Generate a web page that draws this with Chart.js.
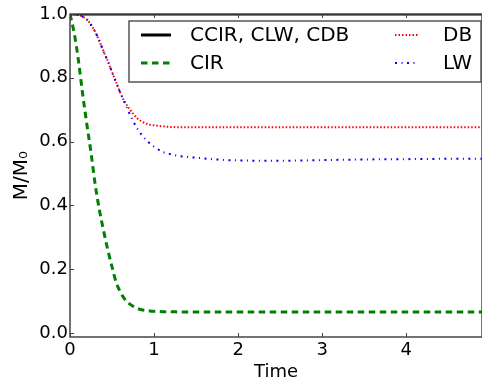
<!DOCTYPE html>
<html lang="en">
<head>
    <meta charset="UTF-8">
    <title>M/M0 over time</title>
    <script src="https://cdn.jsdelivr.net/npm/chart.js"></script>
    <style>
        body { margin: 0; background: #fff; }
        #wrap { width: 482px; height: 387px; }
    </style>
</head>
<body>
    <div id="wrap"><canvas id="mChart"></canvas></div>

    <script>
        // values
        let times = [0, 0.05, 0.1, 0.15, 0.2, 0.25, 0.3, 0.35, 0.4, 0.45, 0.5, 0.55, 0.6, 0.65, 0.7, 0.75, 0.8, 0.85, 0.9, 0.95, 1.0, 1.1, 1.2, 1.3, 1.4, 1.6, 1.8, 2.0, 2.5, 3.0, 3.5, 4.0, 4.5, 4.9];
        let ccir = [1, 1, 1, 1, 1, 1, 1, 1, 1, 1, 1, 1, 1, 1, 1, 1, 1, 1, 1, 1, 1, 1, 1, 1, 1, 1, 1, 1, 1, 1, 1, 1, 1, 1];
        let cir = [1.0, 0.94, 0.855, 0.75, 0.655, 0.565, 0.465, 0.385, 0.32, 0.26, 0.207, 0.158, 0.128, 0.106, 0.093, 0.084, 0.077, 0.073, 0.071, 0.069, 0.068, 0.067, 0.067, 0.066, 0.066, 0.066, 0.066, 0.066, 0.066, 0.066, 0.066, 0.066, 0.066, 0.066];
        let db = [1.0, 0.999, 0.997, 0.992, 0.983, 0.966, 0.944, 0.915, 0.882, 0.852, 0.818, 0.785, 0.752, 0.725, 0.705, 0.688, 0.673, 0.664, 0.657, 0.653, 0.651, 0.648, 0.646, 0.645, 0.645, 0.645, 0.645, 0.645, 0.645, 0.645, 0.645, 0.645, 0.645, 0.645];
        let lw = [1.0, 0.999, 0.997, 0.992, 0.983, 0.966, 0.944, 0.915, 0.882, 0.852, 0.818, 0.785, 0.752, 0.722, 0.692, 0.665, 0.641, 0.622, 0.606, 0.594, 0.584, 0.568, 0.56, 0.555, 0.552, 0.547, 0.543, 0.541, 0.540, 0.542, 0.544, 0.545, 0.546, 0.546];
        let xTicks = [0, 1, 2, 3, 4];
        let yTicks = [0, 0.2, 0.4, 0.6, 0.8, 1.0];

        function pts(vals) {
            return times.map((t, i) => ({ x: t, y: vals[i] }));
        }

        const font = 'DejaVu Sans';

        // matplotlib-like frame with inward ticks
        const framePlugin = {
            id: 'frame',
            afterDatasetsDraw(chart) {
                let ctx = chart.ctx;
                let a = chart.chartArea;
                let xs = chart.scales.x, ys = chart.scales.y;
                ctx.save();
                ctx.strokeStyle = '#444';
                ctx.lineWidth = 1.5;
                ctx.strokeRect(a.left, a.top, a.right - a.left, a.bottom - a.top);
                ctx.lineWidth = 1;
                ctx.beginPath();
                xTicks.forEach(v => {
                    let px = Math.round(xs.getPixelForValue(v)) + 0.5;
                    ctx.moveTo(px, a.bottom); ctx.lineTo(px, a.bottom - 4);
                    ctx.moveTo(px, a.top); ctx.lineTo(px, a.top + 4);
                });
                yTicks.forEach(v => {
                    let py = Math.round(ys.getPixelForValue(v)) + 0.5;
                    ctx.moveTo(a.left, py); ctx.lineTo(a.left + 4, py);
                });
                ctx.stroke();
                ctx.restore();
            }
        };

        // two-column legend box in the upper right
        const legendPlugin = {
            id: 'boxLegend',
            afterDraw(chart) {
                let ctx = chart.ctx;
                let a = chart.chartArea;
                let bx = a.left + 59, by = a.top + 7, bw = 352, bh = 61;
                ctx.save();
                ctx.fillStyle = '#fff';
                ctx.fillRect(bx, by, bw, bh);
                ctx.strokeStyle = '#555';
                ctx.lineWidth = 1.5;
                ctx.strokeRect(bx, by, bw, bh);
                let cols = [
                    { sx: bx + 12, sw: 30, tx: bx + 61 },
                    { sx: bx + 266, sw: 24, tx: bx + 314 }
                ];
                ctx.font = '20px "' + font + '"';
                ctx.textBaseline = 'middle';
                chart.data.datasets.forEach((ds, i) => {
                    let c = cols[Math.floor(i / 2)];
                    let y = by + 14 + (i % 2) * 28;
                    ctx.strokeStyle = ds.borderColor;
                    ctx.lineWidth = ds.borderWidth;
                    ctx.setLineDash(ds.borderDash || []);
                    ctx.beginPath();
                    ctx.moveTo(c.sx, y); ctx.lineTo(c.sx + c.sw, y);
                    ctx.stroke();
                    ctx.setLineDash([]);
                    ctx.fillStyle = '#000';
                    ctx.fillText(ds.label, c.tx, y + 1);
                });
                ctx.restore();
            }
        };

        let mCtx = document.getElementById('mChart').getContext('2d');

        let mChart = new Chart(mCtx, {
            type: 'line',
            data: {
                datasets: [
                    { label: 'CCIR, CLW, CDB', data: pts(ccir), borderColor: '#000', borderWidth: 3, order: 0 },
                    { label: 'CIR', data: pts(cir), borderColor: '#008000', borderWidth: 3, borderDash: [6.5, 4.5], order: 1 },
                    { label: 'DB', data: pts(db), borderColor: '#ff0000', borderWidth: 2, borderDash: [1.5, 2], order: 3 },
                    { label: 'LW', data: pts(lw), borderColor: '#0000ff', borderWidth: 2, borderDash: [2, 4.5, 1, 4.5], order: 2 }
                ]
            },
            options: {
                responsive: true,
                maintainAspectRatio: false,
                animation: false,
                layout: { padding: { top: 14, right: 0, left: 0, bottom: 0 } },
                elements: {
                    point: { radius: 0 },
                    line: { cubicInterpolationMode: 'monotone', fill: false, borderCapStyle: 'butt' }
                },
                plugins: {
                    legend: { display: false },
                    tooltip: { enabled: false }
                },
                scales: {
                    x: {
                        type: 'linear',
                        min: 0,
                        max: 4.9,
                        afterBuildTicks: s => { s.ticks = xTicks.map(v => ({ value: v })); },
                        afterFit: s => { s.height = 50; },
                        grid: { display: false, drawTicks: false },
                        border: { display: false },
                        ticks: {
                            font: { family: font, size: 18 },
                            color: '#000',
                            padding: 3,
                            maxRotation: 0,
                            autoSkip: false,
                            callback: v => String(v)
                        },
                        title: {
                            display: true,
                            text: 'Time',
                            font: { family: font, size: 18 },
                            color: '#000',
                            padding: { top: 0, bottom: 4 }
                        }
                    },
                    y: {
                        min: -0.0125,
                        max: 1.0,
                        afterBuildTicks: s => { s.ticks = yTicks.map(v => ({ value: v })); },
                        afterFit: s => { s.width = 70; },
                        grid: { display: false, drawTicks: false },
                        border: { display: false },
                        ticks: {
                            font: { family: font, size: 18 },
                            color: '#000',
                            padding: 2,
                            autoSkip: false,
                            callback: v => v.toFixed(1)
                        },
                        title: {
                            display: true,
                            text: 'M/M\u2080',
                            font: { family: font, size: 20 },
                            color: '#000',
                            padding: { top: 10, bottom: 0 }
                        }
                    }
                }
            },
            plugins: [framePlugin, legendPlugin]
        });
    </script>
</body>
</html>
